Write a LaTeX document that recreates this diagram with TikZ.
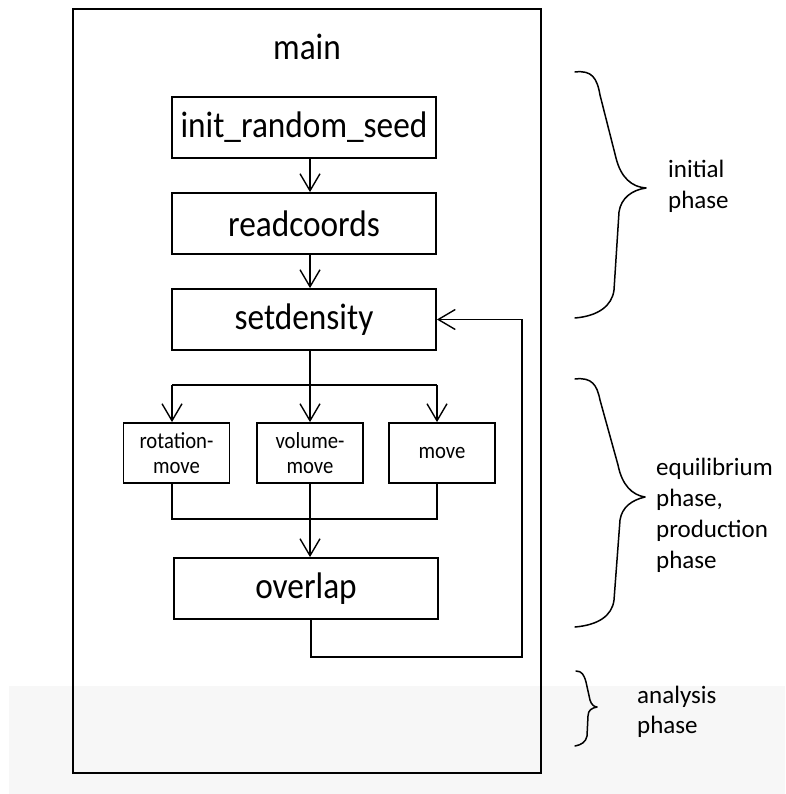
\documentclass[tikz,border=0pt]{standalone}
\usepackage{fontspec}
\setmainfont{Carlito}
\newfontfamily\bigfont[FakeStretch=0.9]{Carlito}
\usetikzlibrary{arrows.meta}
\definecolor{band}{RGB}{247,247,247}
\begin{document}
\begin{tikzpicture}[x=1pt,y=-1pt,
  frame/.style={draw=black, line width=2pt, inner sep=0pt},
  bigbox/.style={draw=black, line width=1.8pt, minimum width=264pt, minimum height=61pt, inner sep=0pt, font=\bigfont\fontsize{37}{40}\selectfont},
  smallbox/.style={draw=black, line width=1.8pt, minimum width=106pt, minimum height=60pt, inner sep=0pt, align=center, font=\bigfont\fontsize{23}{25}\selectfont},
  conn/.style={line width=1.4pt},
  arr/.style={conn, -{Straight Barb[length=17pt,width=20pt]}},
  sidelabel/.style={anchor=west, align=left, inner sep=0pt, font=\fontsize{25}{31}\selectfont},
  brace/.style={line width=1.5pt, line join=round, line cap=round}
]
\useasboundingbox (0,0) rectangle (785,794);
\fill[band] (9,686) rectangle (785,794);

% frame and title
\node[frame, minimum width=468pt, minimum height=764pt] (mainframe) at (307,391) {};
\node[inner sep=0pt, font=\bigfont\fontsize{37}{40}\selectfont] (title) at (307,47) {main};

% main boxes
\node[bigbox] (init) at (304,127.5) {init\_random\_seed};
\node[bigbox] (read) at (304,223.5) {readcoords};
\node[bigbox] (dens) at (304,319.5) {setdensity};
\node[smallbox] (rot) at (176.5,453) {rotation-\\move};
\node[smallbox] (vol) at (310,453) {volume-\\move};
\node[smallbox] (mv) at (442,453) {move};
\node[bigbox] (ovl) at (306,588.5) {overlap};

% helper coordinates
\coordinate (br) at (310,385);
\coordinate (brL) at (172,385);
\coordinate (brR) at (437,385);
\coordinate (jL) at (172,519);
\coordinate (jR) at (437,519);
\coordinate (lpA) at (311,657);
\coordinate (lpB) at (522,657);

% connectors
\draw[arr] (init.south -| br) -- (read.north -| br);
\draw[arr] (read.south -| br) -- (dens.north -| br);
\draw[conn] (dens.south -| br) -- (br);
\draw[conn] (brL) -- (brR);
\draw[arr] (brL) -- (rot.north -| brL);
\draw[arr] (br) -- (vol.north -| br);
\draw[arr] (brR) -- (mv.north -| brR);
\draw[conn] (rot.south -| jL) -- (jL) -- (jR) -- (mv.south -| jR);
\draw[arr] (vol.south -| br) -- (ovl.north -| br);
\draw[arr] (ovl.south -| lpA) -- (lpA) -- (lpB) -- (lpB |- dens.east) -- (dens.east);

% braces
\draw[brace] (575,72) .. controls (592,70) and (597,78) .. (600,95)
  -- (616,158) .. controls (621,178) and (632,187) .. (646,188)
  .. controls (632,190) and (621,198) .. (619,212)
  -- (614,290) .. controls (612,306) and (598,316) .. (575,318);
\draw[brace] (575,379) .. controls (592,377) and (597,385) .. (600,400)
  -- (618,465) .. controls (622,485) and (632,495) .. (645,497)
  .. controls (632,500) and (622,507) .. (620,520)
  -- (614,600) .. controls (612,616) and (598,625) .. (575,627);
\draw[brace] (576,671) .. controls (582,671) and (584,675) .. (586,682)
  -- (590,700) .. controls (591,704) and (594,707) .. (597,707)
  .. controls (592,708) and (588,710) .. (588,716)
  -- (587,736) .. controls (586,742) and (581,745) .. (575,746);

% side labels
\node[sidelabel] (lblinit) at (668,186.5) {initial\\phase};
\node[sidelabel] (lbleq) at (656,515.5) {equilibrium\\phase,\\production\\phase};
\node[sidelabel, font=\fontsize{25}{30}\selectfont] (lblan) at (637,712) {analysis\\phase};
\end{tikzpicture}
\end{document}
